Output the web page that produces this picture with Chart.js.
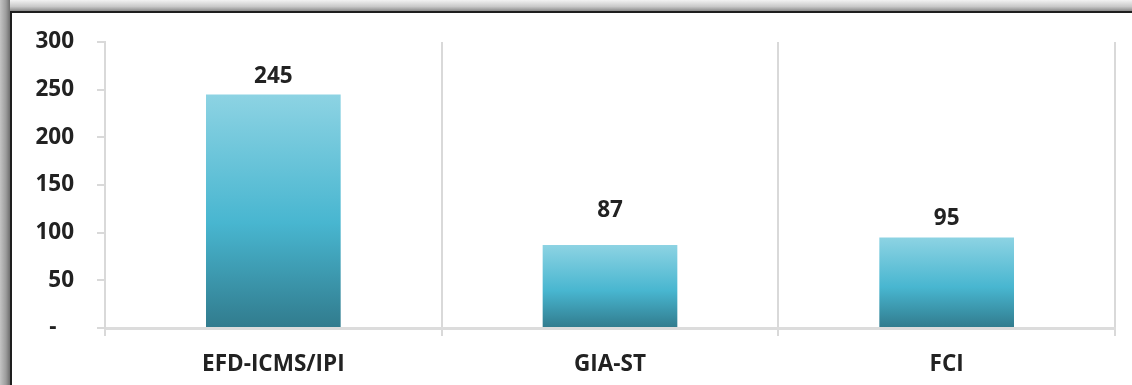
<!DOCTYPE html>
<html>
<head>
<meta charset="utf-8">
<script src="https://cdn.jsdelivr.net/npm/chart.js@4"></script>
<style>
    body { margin: 0; background: #fff; }
    .wrap { position: relative; width: 1132px; height: 385px; overflow: hidden; background: #fff; }
    .shade-top { position: absolute; left: 0; top: 0; width: 1132px; height: 11px; background: linear-gradient(to bottom, #f2f2f2, #c8c8c8 60%, #8a8a8a); }
    .shade-left { position: absolute; left: 0; top: 0; width: 10px; height: 385px; background: linear-gradient(to right, #c4c4c4, #9c9c9c 60%, #6e6e6e); }
    .frame { position: absolute; left: 10px; top: 11px; width: 1122px; height: 374px; border-left: 2px solid #1e1e1e; border-top: 2px solid #1e1e1e; box-sizing: border-box; background: #fff; }
    canvas { position: absolute; left: 0; top: 0; }
</style>
</head>
<body>
<div class="wrap">
    <div class="shade-top"></div>
    <div class="shade-left"></div>
    <div class="frame"></div>
    <canvas id="chart" width="1132" height="385"></canvas>
</div>
<script>
const categories = ['EFD-ICMS/IPI', 'GIA-ST', 'FCI'];
const values = [245, 87, 95];
const yTicks = [0, 50, 100, 150, 200, 250, 300];

const FONT = '"Open Sans", Lato, sans-serif';
const FONT_SIZE = 22.5;

// gradient per bar, from its top down to the axis
function barGradient(context) {
    const chart = context.chart;
    const yScale = chart.scales.y;
    if (!yScale || typeof context.raw !== 'number') return '#4bb8d2';
    const top = yScale.getPixelForValue(context.raw);
    const bottom = yScale.getPixelForValue(0);
    if (!isFinite(top) || !isFinite(bottom) || top === bottom) return '#4bb8d2';
    const g = chart.ctx.createLinearGradient(0, top, 0, bottom);
    g.addColorStop(0, '#8dd3e3');
    g.addColorStop(0.55, '#48b6d0');
    g.addColorStop(1, '#317b8d');
    return g;
}

// value labels above the bars
const valueLabels = {
    id: 'valueLabels',
    afterDatasetsDraw(chart, args, opts) {
        const ctx = chart.ctx;
        const meta = chart.getDatasetMeta(0);
        ctx.save();
        ctx.font = 'bold ' + FONT_SIZE + 'px ' + FONT;
        ctx.fillStyle = '#222';
        ctx.textAlign = 'center';
        ctx.textBaseline = 'alphabetic';
        meta.data.forEach((bar, i) => {
            const gap = opts.gaps[i] || 10;
            ctx.fillText(values[i], bar.x, bar.y - gap);
        });
        ctx.restore();
    }
};

new Chart(document.getElementById('chart'), {
    type: 'bar',
    data: {
        labels: categories,
        datasets: [{
            data: values,
            backgroundColor: barGradient,
            borderWidth: 0,
            categoryPercentage: 1,
            barPercentage: 0.4
        }]
    },
    plugins: [valueLabels],
    options: {
        responsive: false,
        animation: false,
        devicePixelRatio: 1,
        layout: {
            padding: { top: 42, right: 17, left: 0, bottom: 0 }
        },
        plugins: {
            legend: { display: false },
            tooltip: { enabled: false },
            valueLabels: { gaps: [11, 28, 12] }
        },
        scales: {
            x: {
                afterFit: (scale) => { scale.height = 57; },
                grid: {
                    offset: true,
                    color: '#d9d9d9',
                    lineWidth: 2,
                    tickLength: 8,
                    drawOnChartArea: true
                },
                border: { color: '#dcdcdc', width: 3 },
                ticks: {
                    color: '#222',
                    padding: 15,
                    font: { family: FONT, size: FONT_SIZE, weight: 'bold' }
                }
            },
            y: {
                min: yTicks[0],
                max: yTicks[yTicks.length - 1],
                afterFit: (scale) => { scale.width = 105; },
                afterBuildTicks: (scale) => {
                    scale.ticks = yTicks.map(v => ({ value: v }));
                },
                grid: {
                    drawOnChartArea: false,
                    color: '#d9d9d9',
                    lineWidth: 2,
                    tickLength: 8
                },
                border: { color: '#d9d9d9', width: 2 },
                ticks: {
                    color: '#222',
                    padding: 23,
                    font: { family: FONT, size: FONT_SIZE, weight: 'bold' },
                    callback: (v) => v === 0 ? '-   ' : v
                }
            }
        }
    }
});
</script>
</body>
</html>
